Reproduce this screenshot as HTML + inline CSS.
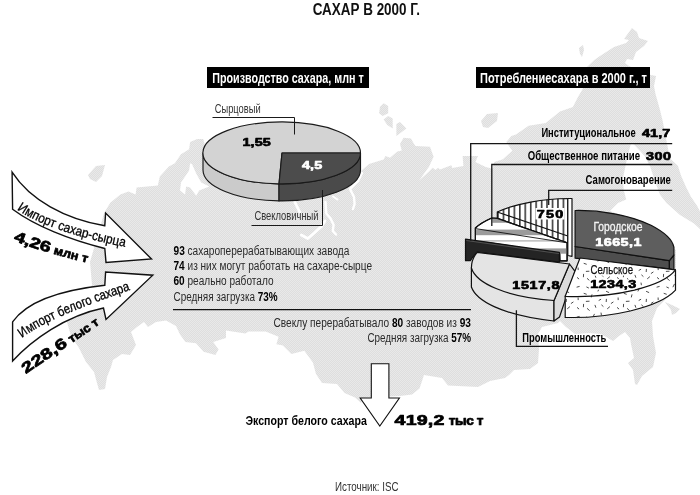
<!DOCTYPE html>
<html lang="ru">
<head>
<meta charset="utf-8">
<title>Сахар в 2000 г.</title>
<style>
html,body{margin:0;padding:0;background:#fff;}
body{width:700px;height:495px;overflow:hidden;font-family:"Liberation Sans",sans-serif;}
svg{display:block;filter:grayscale(1);}
text{font-family:"Liberation Sans",sans-serif;}
.b{font-weight:bold;}
.x{font-weight:bold;stroke-width:0.7px;stroke-linejoin:round;paint-order:stroke fill;}
</style>
</head>
<body>
<svg width="700" height="495" viewBox="0 0 700 495">
<defs>
<pattern id="mp" width="2" height="2" patternUnits="userSpaceOnUse">
<rect width="2" height="2" fill="#dedede"/>
<rect x="0" y="0" width="1" height="1" fill="#e9e9e9"/>
<rect x="1" y="1" width="1" height="1" fill="#e9e9e9"/>
</pattern>
</defs>
<rect width="700" height="495" fill="#fff"/>

<!-- MAP -->
<g id="map" fill="url(#mp)" stroke="none" shape-rendering="geometricPrecision">
<!-- main body -->
<path d="M104.2,212.8 L110.3,202.7 L120.4,194.6 L128.5,191.6 L135.6,194.6 L136.6,187.6 L157.8,185.6 L159.8,176.5 L168.9,166.4 L174.9,163.3 L181,154.2 L189.1,149.2 L190.1,142.1 L197.2,139.1 L203.2,139.1 L205.3,146.2
 L215,150 L260,160 L330,170 L361,171 L369,164 L383.6,159.5 L385.5,156 L390,157.7 L397.3,151.4 L401.8,150.5 L400,144 L403.6,137.7 L411,138.6 L413.6,143.2 L415.5,146 L430,146.8 L433.6,156.8 L429,166.8 L419.1,180.5 L428.2,172.3 L432.7,167.7 L435.5,170 L438.2,167.7 L440,169.5 L451.4,165.3 L452.3,167.9 L463.4,166.1 L462.6,155.9 L478,155.9 L475.4,161.9 L485.7,167 L492.6,168.7 L494.3,161.9 L502.9,159.3 L512.3,150.7 L506.3,142.1 L511.4,136.1 L516,134.5 L528.6,125.7 L545.7,122.9 L560,111.4 L572.9,107 L578,97 L583,88.6 L586,68 L594.3,60 L600,56 L614,47 L626,43 L629,40 L624,39 L632,28 L637,32 L639,38 L648,41 L644,46 L636,52 L633,60 L627,59 L625,63 L629,66
 L651,75 L656,76 L654,86 L655.5,94 L657.5,101 L660,110 L662.7,121 L666.4,140.5 L670,158.6 L677.9,165.7 L681,175.4 L685.9,186.7 L690.8,196.4 L697.2,206 L700,211.5 L700,229 L694,223.5 L680,215 L666.5,203 L660,194.8 L655.2,182 L650.4,167.3 L644.7,156 L634.2,144.7 L632,143 L630.5,145 L626.2,162.5 L622.9,178.6 L623.7,190 L626.2,199.6 L618,203 L610,211 L640,222 L676,250 L676,281 L669,296 L657,308 L652,321 L653,336 L656,353 L653,367 L642,376 L637,385 L635,384 L633,370 L628,363 L634,358 L631,344 L630,338 L625,332 L619,336 L613,341 L601,334 L589,333 L575,334 L566,327 L560,321 L558,323 L542,327 L538,334 L539,349 L538,363 L530,369 L514,370 L509,375 L505,378 L490,381 L478,387 L448,385.5 L442,378 L424,375 L419.5,388.5 L412,394.5 L400,396 L363,398 L361,403 L355,397.5 L344.5,393 L337,384 L322,383 L316,374 L312.9,362.5 L304.3,350.7 L291.4,353.9 L282.9,345.4 L276.4,344.3 L278.6,336.8 L265.7,331.4 L248.6,331.4 L245.4,333.6 L226,330.4 L226,337.9 L213.2,342.1 L218.6,349.6 L215.4,355 L203.6,351.8 L196,343.2 L185.4,342.1 L180,334.6 L176,326 L166,320.5 L156,322 L148,327 L144,322 L137,327 L131,332 L136,345 L130,355 L122,354 L113,360 L111,367 L107,377 L105,389 L99,390 L97,383 L94,372 L86,362 L79,348 L71,336 L67,322 L92,285 L90,262 Z"/>
<!-- islands -->
<path d="M88,175 L96,166 L105,165 L102,176 L96,182 L90,179 Z"/>
<path d="M380,106.8 L383.6,103.2 L388.2,105.9 L388.2,113.2 L382.7,115.9 L379.1,113.2 Z"/>
<path d="M383.6,119.5 L388.2,115.9 L392.7,118.6 L392.7,128.6 L387.3,125 Z"/>
<path d="M396.4,124.1 L400,121.9 L406.4,128.6 L396.4,135.9 Z"/>
<path d="M481,121 L487,114 L498,113 L497,121 L488,128 L483,127 Z"/>
<path d="M579,48 L583,45 L584,50 L582,57 L580,54 Z"/>
<path d="M665,302 L672,305 L680,309 L676,313 L672,315 L671,310 Z"/>
</g>
<g fill="none" stroke="#fff" stroke-width="2.4" stroke-linecap="round" stroke-linejoin="round">
<path d="M362,173 L358,181 L350,189 L354,197 L354.6,204 L353,209"/>
<path d="M333,196.5 L337.5,199.5" stroke-width="2"/>
<path d="M325.5,202 L326.3,213.5 L330.4,218.3 L333.6,224.8 L332.8,231 L336,234.5"/>
<path d="M294.8,202 L299.7,212 M301.3,235 L307.8,238.5 L314.2,233 L321.5,226.4 L325,221" stroke-width="2.8"/>
</g>
<!-- white sea inlet -->
<path d="M190.1,163.3 L189.1,170.4 L181,182.5 L180,190.6 L185.1,194.6 L186.1,186.6 L190.1,187.6 L196.2,195.7 L199.2,190.6 L209.3,186.6 L201.2,182.5 L196.2,173.4 L192.1,164.3 Z" fill="#fff"/>


<!-- PIE 1 -->
<g id="pie1" stroke="#1a1a1a" stroke-width="1.15" stroke-linejoin="round">
<!-- side light -->
<path d="M203,153 L203,170 A78.8,31 0 0 0 279,200.9 L279,183.9 A78.8,31 0 0 1 203,153 Z" fill="#cbcbcb"/>
<!-- side dark -->
<path d="M279,183.9 L279,200.9 A78.8,31 0 0 0 360.5,170 L360.5,153 A78.8,31 0 0 1 279,183.9 Z" fill="#4a4a4a"/>
<!-- top light -->
<path d="M282,153 L360.5,153 A78.8,31 0 1 0 279,183.9 Z" fill="#d3d3d3"/>
<!-- top dark -->
<path d="M282,153 L360.5,153 A78.8,31 0 0 1 279,183.9 Z" fill="#4c4c4c"/>
</g>
<g fill="none" stroke="#1a1a1a" stroke-width="1">
<path d="M212.5,117.5 L294.5,117.5 L294.5,134.5"/>
<path d="M251.5,225.5 L322.5,225.5 L322.5,190"/>
</g>


<!-- PIE 2 -->
<defs>
<pattern id="vs" width="5.45" height="10" patternUnits="userSpaceOnUse" x="497.2">
<rect width="5.45" height="10" fill="#fff"/>
<rect x="0" y="0" width="1.6" height="10" fill="#3a3a3a"/>
</pattern>
<pattern id="sp" width="40" height="30" patternUnits="userSpaceOnUse">
<rect width="40" height="30" fill="#fff"/>
<path d="M19.6,16.4L16.6,17.2M23.6,3.9L23.4,7.2M23.7,23.3L26.7,24.3M13.4,1.9L10.9,3.6M29.5,1.2L25.9,1.4M-0.7,17.9L-2.1,21.4M39.3,17.9L37.9,21.4M6.4,-1.1L6.2,2.0M6.4,28.9L6.2,32.0M1.4,4.8L3.4,6.6M1.0,12.6L1.4,15.2M41.0,12.6L41.4,15.2M34.5,13.9L32.9,17.2M1.1,-0.8L-1.3,0.5M1.1,29.2L-1.3,30.5M41.1,-0.8L38.7,0.5M41.1,29.2L38.7,30.5M27.0,8.3L29.6,10.6M6.1,21.3L9.1,22.6M34.9,4.9L35.9,7.7M9.9,6.6L7.2,8.9M18.1,-2.5L18.2,0.1M18.1,27.5L18.2,30.1M26.4,16.9L28.9,18.1M32.0,24.4L31.3,27.4M17.0,7.4L19.1,9.1" stroke="#2a2a2a" stroke-width="0.85" fill="none"/>
</pattern>
</defs>
<g id="pie2" stroke="#111" stroke-width="1.2" stroke-linejoin="round">
<!-- city (dark) -->
<path d="M575.1,246.5 L575.1,258.2 L669.4,268.9 L669.4,260.6 Z" fill="#4e4e4e"/>
<path d="M669.4,260.6 L673.9,255 L673.9,270 L669.4,268.9 Z" fill="#5e5e5e"/>
<path d="M575.1,210.5 C600,210 630,215 651,225.3 C664,232 672.5,240 673.9,247.2 L673.9,255 L669.4,260.6 L575.1,246.5 Z" fill="#5e5e5e"/>
<!-- samogon -->
<path d="M497.3,212 C515,203.5 545,198.5 567.8,198.5 L567.8,243 L497.3,218.4 Z" fill="url(#vs)"/>
<path d="M497.3,212 L567.8,236" fill="none"/>
<path d="M567.8,198.5 L567.8,255.5 L572,256.3 L572,198.5 Z" fill="#fff"/>
<!-- public catering (banded) -->
<clipPath id="pc"><path d="M491.7,218 C485,221 479,224.5 475.4,228 L475.4,240.5 L559.4,253.5 L559.9,260.8 L567.1,260.8 L567.1,242.8 L497.3,218.4 Z"/></clipPath>
<path d="M491.7,218 C485,221 479,224.5 475.4,228 L475.4,240.5 L559.4,253.5 L559.9,260.8 L567.1,260.8 L567.1,242.8 L497.3,218.4 Z" fill="#fff"/>
<g clip-path="url(#pc)" stroke="none" fill="#9b9b9b">
<rect x="492.3" y="218" width="80" height="4.8"/>
<rect x="470" y="229.6" width="100" height="5.6"/>
<rect x="470" y="240" width="100" height="1.7" fill="#c4c4c4"/>
<rect x="470" y="248.4" width="100" height="5.3"/>
</g>
<path d="M475.4,228.6 L567.1,242.8" fill="none" stroke-width="0.9"/>
<path d="M491.7,218 C485,221 479,224.5 475.4,228 L475.4,240.5 M559.9,253.5 L559.9,260.8 L567.1,260.8 L567.1,242.8 L497.3,218.4 L491.7,218" fill="none"/>
<!-- institutional (black) -->
<path d="M465.5,239.2 L559.4,252.4 L559.4,262.2 L477.1,252.1 C474.5,254.5 472.5,257.5 470.3,260.7 L465.5,260.7 Z" fill="#242424"/>
<path d="M466.3,240.5 L559,253.6" fill="none" stroke="#5c5c5c" stroke-width="0.8"/>
<!-- industry -->
<path d="M471.4,268 L471.4,287 C476,300 500,315 554,321 L554,300.5 Z" fill="#e4e4e4"/>
<path d="M554,300.5 L554,321 L559.5,317 L575,271.4 L569.5,264 Z" fill="#dcdcdc"/>
<path d="M477.1,252.3 L569.5,264 L554,300.5 C505,297 476,283 471.4,268 C471.4,262 474,256 477.1,252.3 Z" fill="#e4e4e4"/>
<!-- rural (speckled) -->
<path d="M565.2,296.2 L565.2,317.4 C608,318.7 659,308 675.5,290.2 L675.5,269.9 Z" fill="url(#sp)"/>
<path d="M580,258 L675.5,269.9 C663,286.5 615,298.3 565.2,296.3 Z" fill="url(#sp)"/>
</g>
<!-- leaders -->
<g fill="none" stroke="#161616" stroke-width="1.3">
<path d="M672.2,143.6 L470.7,143.6 L470.7,240.5"/>
<path d="M672.2,164.5 L491.8,164.5 L491.8,226"/>
<path d="M672.2,190.4 L548.7,190.4 L548.7,205"/>
<path d="M516.4,310.3 L516.4,346.3 L608,346.3"/>
</g>

<!-- HEADERS -->
<rect x="207" y="67" width="162" height="21" fill="#000"/>
<rect x="476" y="67" width="174" height="21" fill="#000"/>

<path d="M173,309.6 L471,309.6" stroke="#111" stroke-width="1.2" fill="none"/>
<path d="M371.3,363.7 L388.9,363.7 L388.9,398 L399.4,398 L379.8,426 L360.2,398 L371.3,398 Z" fill="#fff" stroke="#111" stroke-width="1.1"/>

<!-- ARROWS -->
<g id="arrows" fill="#fff" stroke="#111" stroke-width="1.4" stroke-linejoin="miter">
<path d="M12.1,172.2 C30,200 65,219 104.8,225.8 L105.6,213 L151.5,259 L106,262.4 L104.8,248.5 C70,240 35,226 12.6,209.3 Z"/>
<path d="M12.6,321.9 C28,300 62,290 104.8,285.3 L105.6,272 L152.8,275.2 L106,319.4 L103.5,308 C65,316 32,340 12.6,361 Z"/>
</g>
<defs>
<path id="tp1" d="M17,209.5 C40,226 80,238 130,248"/>
<path id="tp1b" d="M13.5,240.5 C35,249 60,256.5 95,264.5"/>
<path id="tp2" d="M22,338 C45,320 90,304 136,288"/>
<path id="tp2b" d="M26,374 C50,357 80,338.5 106,319.5"/>
</defs>
<g id="arrowtxt">
<text font-size="13.5" fill="#000" stroke="#000" stroke-width="0.3"><textPath href="#tp1" textLength="115" lengthAdjust="spacingAndGlyphs">Импорт сахар-сырца</textPath></text>
<text class="x" stroke="#000" fill="#000"><textPath href="#tp1b"><tspan font-size="15" textLength="38" lengthAdjust="spacingAndGlyphs">4,26</tspan><tspan font-size="12" dx="4" textLength="35" lengthAdjust="spacingAndGlyphs">млн т</tspan></textPath></text>
<text font-size="13.5" fill="#000" stroke="#000" stroke-width="0.3"><textPath href="#tp2" textLength="119" lengthAdjust="spacingAndGlyphs">Импорт белого сахара</textPath></text>
<text class="x" stroke="#000" fill="#000"><textPath href="#tp2b"><tspan font-size="15" textLength="51" lengthAdjust="spacingAndGlyphs">228,6</tspan><tspan font-size="12" dx="4" textLength="34" lengthAdjust="spacingAndGlyphs">тыс т</tspan></textPath></text>
</g>
<!-- TEXT -->
<g id="txt">
<text x="312.7" y="15.4" font-size="16" fill="#111" class="b" textLength="107.3" lengthAdjust="spacingAndGlyphs">САХАР В 2000 Г.</text>
<text x="212.3" y="83.4" font-size="14.5" fill="#fff" class="b" textLength="151.4" lengthAdjust="spacingAndGlyphs">Производство сахара, млн т</text>
<text x="480" y="83.4" font-size="14.5" fill="#fff" class="b" textLength="167.0" lengthAdjust="spacingAndGlyphs">Потреблениесахара в 2000 г., т</text>
<text x="214.8" y="112.5" font-size="12" fill="#333" textLength="45.8" lengthAdjust="spacingAndGlyphs">Сырцовый</text>
<text x="254.4" y="220.3" font-size="12" fill="#333" textLength="64.2" lengthAdjust="spacingAndGlyphs">Свекловичный</text>
<text transform="translate(242.5,145.9) scale(1.24,1)" font-size="11.6" class="x" fill="#000" stroke="#000" stroke-width="0.6" textLength="22.82" lengthAdjust="spacing">1,55</text>
<text transform="translate(301.9,169) scale(1.24,1)" font-size="11.6" class="x" fill="#fff" stroke="#fff" stroke-width="0.6" textLength="16.45" lengthAdjust="spacing">4,5</text>
<text x="173.5" y="254.5" font-size="12.5" fill="#2a2a2a" textLength="175.9" lengthAdjust="spacingAndGlyphs"><tspan class="b" fill="#000">93</tspan> сахароперерабатывающих завода</text>
<text x="173.5" y="269.8" font-size="12.5" fill="#2a2a2a" textLength="198.5" lengthAdjust="spacingAndGlyphs"><tspan class="b" fill="#000">74</tspan> из них могут работать на сахаре-сырце</text>
<text x="173.5" y="285.1" font-size="12.5" fill="#2a2a2a" textLength="100.0" lengthAdjust="spacingAndGlyphs"><tspan class="b" fill="#000">60</tspan> реально работало</text>
<text x="173.5" y="300.5" font-size="12.5" fill="#2a2a2a" textLength="104.1" lengthAdjust="spacingAndGlyphs">Средняя загрузка <tspan class="b" fill="#000">73%</tspan></text>
<text x="273.5" y="326.8" font-size="12.5" fill="#2a2a2a" textLength="197.5" lengthAdjust="spacingAndGlyphs">Свеклу перерабатывало <tspan class="b" fill="#000">80</tspan> заводов из <tspan class="b" fill="#000">93</tspan></text>
<text x="367.4" y="342.2" font-size="12.5" fill="#2a2a2a" textLength="103.6" lengthAdjust="spacingAndGlyphs">Средняя загрузка <tspan class="b" fill="#000">57%</tspan></text>
<text x="245.4" y="425.2" font-size="12.5" fill="#000" class="b" textLength="121.5" lengthAdjust="spacingAndGlyphs">Экспорт белого сахара</text>
<text transform="translate(394.6,425.3) scale(1.4,1)" font-size="14" class="x" fill="#000" stroke="#000" stroke-width="0.7" textLength="35.50" lengthAdjust="spacing">419,2</text>
<text transform="translate(448.8,425.3) scale(1.12,1)" font-size="12.2" class="x" fill="#000" stroke="#000" stroke-width="0.8" textLength="30.89" lengthAdjust="spacing">тыс т</text>
<text x="335" y="491.4" font-size="12.5" fill="#333" textLength="63.6" lengthAdjust="spacingAndGlyphs">Источник: ISC</text>
<text x="541.4" y="137.1" font-size="12" fill="#000" class="b" textLength="94.3" lengthAdjust="spacingAndGlyphs">Институциональное</text>
<text transform="translate(642,137.1) scale(1.24,1)" font-size="11.6" class="x" fill="#000" stroke="#000" stroke-width="0.6" textLength="22.82" lengthAdjust="spacing">41,7</text>
<text x="527.7" y="160.2" font-size="12" fill="#000" class="b" textLength="112.3" lengthAdjust="spacingAndGlyphs">Общественное питание</text>
<text transform="translate(646,160.2) scale(1.24,1)" font-size="11.6" class="x" fill="#000" stroke="#000" stroke-width="0.6" textLength="20.08" lengthAdjust="spacing">300</text>
<text x="585.6" y="183.8" font-size="12" fill="#000" class="b" textLength="85.3" lengthAdjust="spacingAndGlyphs">Самогоноварение</text>
<text x="522.3" y="341.8" font-size="12" fill="#000" class="b" textLength="84.0" lengthAdjust="spacingAndGlyphs">Промышленность</text>
<rect x="535.5" y="208" width="29" height="11.5" fill="#fff"/>
<text transform="translate(536.8,218) scale(1.24,1)" font-size="11.6" class="x" fill="#000" stroke="#000" stroke-width="0.6" textLength="21.29" lengthAdjust="spacing">750</text>
<text transform="translate(512.3,289) scale(1.24,1)" font-size="11.6" class="x" fill="#000" stroke="#000" stroke-width="0.6" textLength="38.06" lengthAdjust="spacing">1517,8</text>
<text x="593.4" y="230.6" font-size="12" fill="#f4f4f4" textLength="49.2" lengthAdjust="spacingAndGlyphs" stroke="#f4f4f4" stroke-width="0.3">Городское</text>
<text transform="translate(595.3,245.5) scale(1.24,1)" font-size="11.6" class="x" fill="#fff" stroke="#fff" stroke-width="0.6" textLength="37.26" lengthAdjust="spacing">1665,1</text>
<text x="590.6" y="274.1" font-size="12" fill="#fff" stroke="#fff" stroke-width="3.5" stroke-linejoin="round" textLength="42.4" lengthAdjust="spacingAndGlyphs">Сельское</text>
<text x="590.6" y="274.1" font-size="12" fill="#111" textLength="42.4" lengthAdjust="spacingAndGlyphs" stroke="#111" stroke-width="0.25">Сельское</text>
<text transform="translate(590.2,287.9) scale(1.24,1)" font-size="11.6" class="b" fill="#fff" stroke="#fff" stroke-width="3.2" stroke-linejoin="round" textLength="37.10" lengthAdjust="spacing">1234,3</text>
<text transform="translate(590.2,287.9) scale(1.24,1)" font-size="11.6" class="x" fill="#000" stroke="#000" stroke-width="0.6" textLength="37.10" lengthAdjust="spacing">1234,3</text>
</g>
</svg>
</body>
</html>
